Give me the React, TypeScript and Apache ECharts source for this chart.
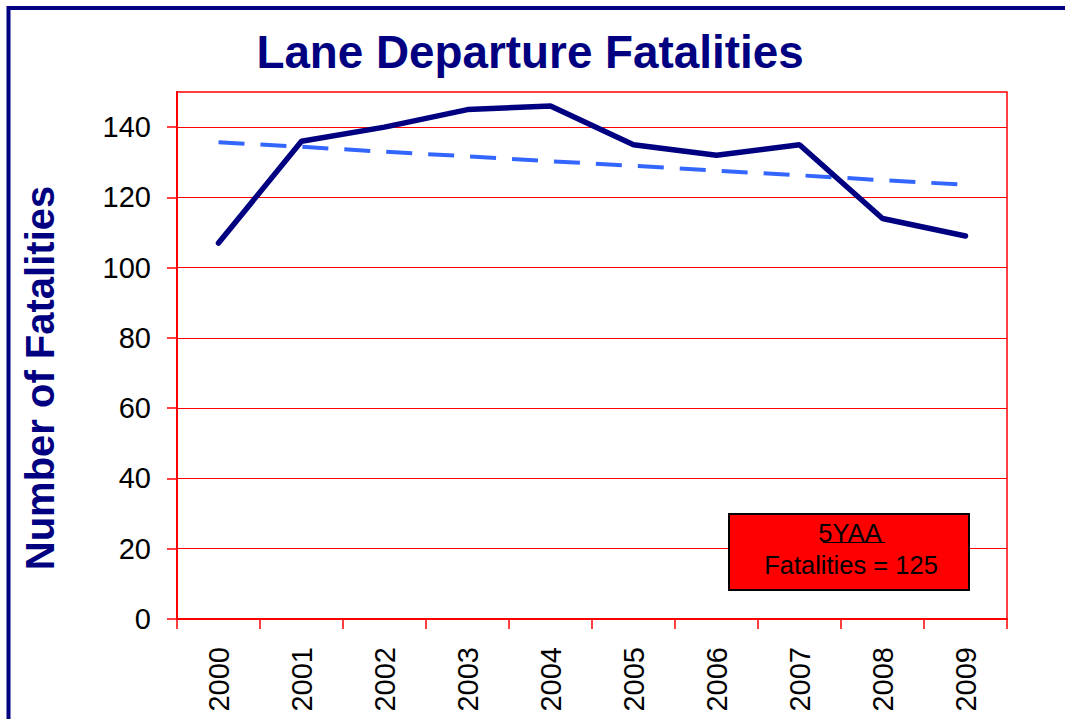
import React, { useEffect, useRef } from "react";
import * as echarts from "echarts";

const years = ["2000", "2001", "2002", "2003", "2004", "2005", "2006", "2007", "2008", "2009"];
const fatalities = [107, 136, 140, 145, 146, 135, 132, 135, 114, 109];
const trend = [135.7, 134.4, 133.0, 131.7, 130.3, 129.0, 127.6, 126.3, 124.9, 123.6];
const yTicks = [0, 20, 40, 60, 80, 100, 120, 140];
const titleText = "Lane Departure Fatalities";
const yAxisTitle = "Number of Fatalities";
const boxLine1 = "5YAA";
const boxLine2 = "Fatalities = 125";

const FONT = "'Liberation Sans', Arial, sans-serif";
const NAVY = "#000080";

export default function App() {
  const ref = useRef<HTMLDivElement>(null);
  useEffect(() => {
    if (!ref.current) return;
    const chart = echarts.init(ref.current, null, { renderer: "svg" });
    chart.setOption({
      animation: false,
      backgroundColor: "#ffffff",
      grid: {
        left: 177,
        right: 58,
        top: 92,
        bottom: 100,
        show: true,
        borderColor: "#ff0000",
        borderWidth: 1.5,
        backgroundColor: "transparent",
      },
      xAxis: {
        type: "category",
        data: years,
        boundaryGap: true,
        axisLine: { show: true, lineStyle: { color: "#ff0000", width: 2 } },
        axisTick: { show: true, length: 10, lineStyle: { color: "#ff0000", width: 1.5 } },
        axisLabel: {
          rotate: 90,
          margin: 28,
          color: "#000",
          fontFamily: FONT,
          fontSize: 29,
        },
        splitLine: { show: false },
      },
      yAxis: {
        type: "value",
        min: 0,
        max: 150,
        interval: 20,
        axisLine: { show: true, lineStyle: { color: "#ff0000", width: 2 } },
        axisTick: {
          show: true,
          length: 10,
          customValues: yTicks,
          lineStyle: { color: "#ff0000", width: 1.5 },
        },
        axisLabel: {
          customValues: yTicks,
          margin: 26,
          color: "#000",
          fontFamily: FONT,
          fontSize: 29,
        },
        splitLine: { show: true, lineStyle: { color: "#ff0000", width: 1 } },
      },
      series: [
        {
          type: "line",
          data: trend,
          showSymbol: false,
          symbol: "none",
          lineStyle: { color: "#3366ff", width: 4, type: [26, 16] },
          z: 2,
        },
        {
          type: "line",
          data: fatalities,
          showSymbol: false,
          symbol: "none",
          lineStyle: { color: NAVY, width: 5.5, cap: "round" },
          z: 3,
        },
      ],
      graphic: [
        {
          type: "polyline",
          shape: { points: [[8.5, 730], [8.5, 8], [1075, 8]] },
          style: { stroke: NAVY, lineWidth: 4, fill: "none" },
          silent: true,
        },
        {
          type: "text",
          x: 530,
          y: 52,
          style: {
            text: titleText,
            fill: NAVY,
            font: `bold 45.8px ${FONT}`,
            textAlign: "center",
            textVerticalAlign: "middle",
          },
        },
        {
          type: "text",
          x: 40,
          y: 378,
          rotation: Math.PI / 2,
          style: {
            text: yAxisTitle,
            fill: NAVY,
            font: `bold 40px ${FONT}`,
            textAlign: "center",
            textVerticalAlign: "middle",
          },
        },
        {
          type: "rect",
          shape: { x: 729, y: 514, width: 240, height: 76 },
          style: { fill: "#ff0000", stroke: "#000000", lineWidth: 2 },
          z: 10,
        },
        {
          type: "text",
          x: 850,
          y: 533,
          z: 11,
          style: {
            text: boxLine1,
            fill: "#000",
            font: `25.5px ${FONT}`,
            textAlign: "center",
            textVerticalAlign: "middle",
          },
        },
        {
          type: "line",
          z: 11,
          shape: { x1: 823, y1: 542.5, x2: 885, y2: 542.5 },
          style: { stroke: "#000", lineWidth: 1.2 },
        },
        {
          type: "text",
          x: 851,
          y: 565,
          z: 11,
          style: {
            text: boxLine2,
            fill: "#000",
            font: `25.5px ${FONT}`,
            textAlign: "center",
            textVerticalAlign: "middle",
          },
        },
      ],
    });
    return () => chart.dispose();
  }, []);
  return (
    <div
      ref={ref}
      style={{ position: "fixed", left: 0, top: 0, width: 1065, height: 719 }}
    />
  );
}
